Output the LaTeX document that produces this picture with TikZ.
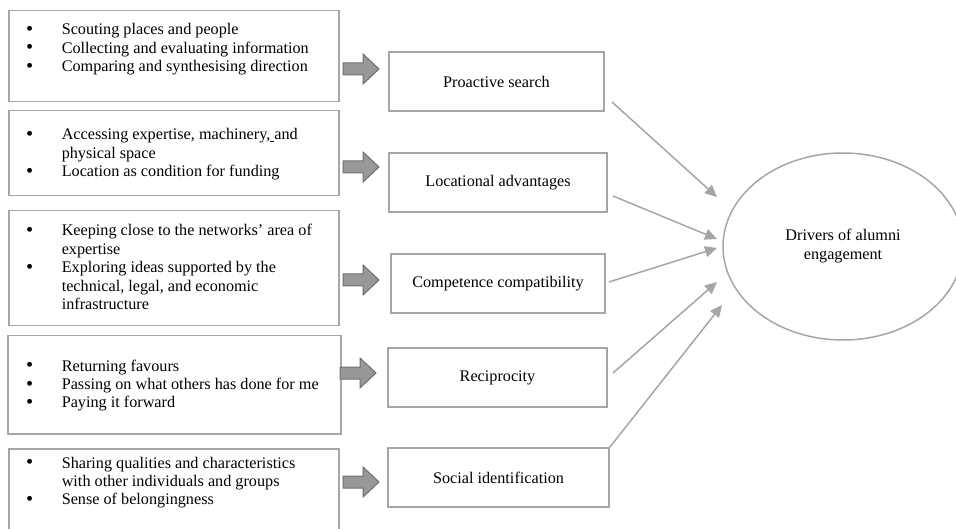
\documentclass[tikz,border=0pt]{standalone}
\usepackage{fontspec}
\setmainfont{Liberation Serif}
\usetikzlibrary{arrows.meta,shapes.geometric}
\definecolor{boxgray}{RGB}{166,166,166}
\definecolor{arrfill}{RGB}{152,152,152}
\definecolor{arrdraw}{RGB}{110,110,110}
\newcommand\bul{\makebox[35pt][l]{\hspace{-0.6pt}\raisebox{-0.6pt}{\scalebox{1.25}{\textbullet}}}}
\newenvironment{blist}{\begin{tabular}[t]{@{}l@{}l@{}}}{\end{tabular}}
\begin{document}
\begin{tikzpicture}[x=1pt,y=-1pt,
  font=\fontsize{16.2}{18.4}\selectfont,
  lbox/.style={draw=boxgray, line width=1.5pt, rectangle, inner sep=0pt, anchor=north west},
  mbox/.style={draw=boxgray, line width=1.5pt, rectangle, minimum height=59, inner sep=0pt},
  btext/.style={anchor=base west, inner sep=0pt},
  blockarr/.style={draw=arrdraw, fill=arrfill, line width=1pt, line join=miter},
  conn/.style={draw=boxgray, line width=1.5pt, -{Triangle[length=12pt,width=11pt]}}]
\useasboundingbox (0,0) rectangle (956,529);
\clip (0,0) rectangle (956,529);

% left boxes
\node[lbox, minimum width=330, minimum height=91] (L1) at (8,10) {};
\node[lbox, minimum width=330, minimum height=85] (L2) at (8,110) {};
\node[lbox, minimum width=330, minimum height=115] (L3) at (8,210) {};
\node[lbox, minimum width=333, minimum height=98] (L4) at (7,335) {};
\node[lbox, minimum width=330, minimum height=100] (L5) at (8,448) {};

\node[btext] (T1) at (26.6,35) {\begin{blist}
\bul & Scouting places and people\\
\bul & Collecting and evaluating information\\
\bul & Comparing and synthesising direction
\end{blist}};
\node[btext] (T2) at (26.6,140) {\begin{blist}
\bul & Accessing expertise, machinery,\underline{ }and\\
 & physical space\\
\bul & Location as condition for funding
\end{blist}};
\node[btext] (T3) at (26.6,236) {\begin{blist}
\bul & Keeping close to the networks’ area of\\
 & expertise\\
\bul & Exploring ideas supported by the\\
 & technical, legal, and economic\\
 & infrastructure
\end{blist}};
\node[btext] (T4) at (26.6,371) {\begin{blist}
\bul & Returning favours\\
\bul & Passing on what others has done for me\\
\bul & Paying it forward
\end{blist}};
\node[btext] (T5) at (26.6,468) {\begin{blist}
\bul & Sharing qualities and characteristics\\
 & with other individuals and groups\\
\bul & Sense of belongingness
\end{blist}};

% block arrows
\foreach \ax/\ay in {343/69, 343/167, 343/280, 340/373, 343/482}{
  \draw[blockarr, shift={(\ax,\ay)}] (0,-6) -- (20,-6) -- (20,-15) -- (36,0) -- (20,15) -- (20,6) -- (0,6) -- cycle;
}

% middle boxes
\node[mbox, minimum width=215] (ps) at (496.5,81.5) {Proactive search};
\node[mbox, minimum width=218] (la) at (498,182.5) {Locational advantages};
\node[mbox, minimum width=214] (cc) at (498,283.5) {Competence compatibility};
\node[mbox, minimum width=219] (re) at (497.5,377.5) {Reciprocity};
\node[mbox, minimum width=221] (si) at (498.5,477.5) {Social identification};

% ellipse
\node[draw=boxgray, line width=1.5pt, ellipse, minimum width=240, minimum height=187, align=center,
  font=\fontsize{16.2}{19}\selectfont] (drv) at (843,246.5) {Drivers of alumni\\engagement};

% connectors
\coordinate (s1) at (612,102); \coordinate (e1) at (717,197);
\coordinate (s2) at (613,196); \coordinate (e2) at (717,239);
\coordinate (s3) at (609,282); \coordinate (e3) at (717,248);
\coordinate (s4) at (613,373); \coordinate (e4) at (717,282);
\coordinate (e5) at (722,305);
\draw[conn] (s1) -- (e1);
\draw[conn] (s2) -- (e2);
\draw[conn] (s3) -- (e3);
\draw[conn] (s4) -- (e4);
\draw[conn] (si.north east) -- (e5);
\end{tikzpicture}
\end{document}
